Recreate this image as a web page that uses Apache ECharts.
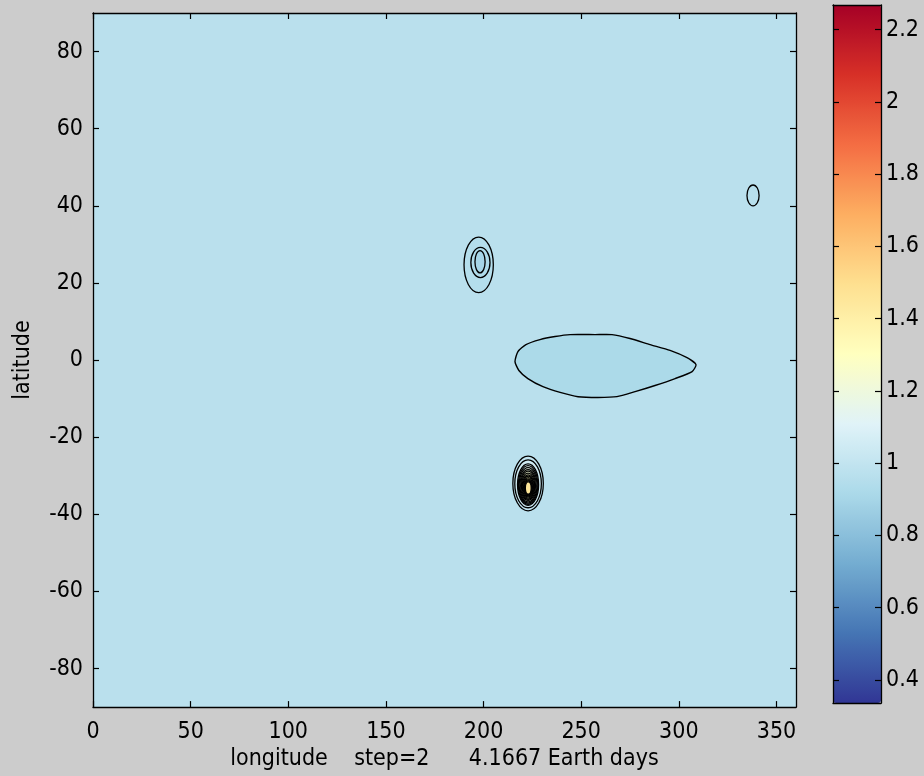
<!DOCTYPE html>
<html>
<head>
<meta charset="utf-8">
<title>latitude / longitude field</title>
<script src="https://cdn.jsdelivr.net/npm/echarts@6/dist/echarts.min.js"></script>
<style>
  html, body { margin: 0; padding: 0; background: #cccccc; }
  #chart { width: 924px; height: 776px; }
</style>
</head>
<body>
<div id="chart"></div>
<script>
// Axis ticks
const lonTicks = [0, 50, 100, 150, 200, 250, 300, 350];
const latTicks = [-80, -60, -40, -20, 0, 20, 40, 60, 80];
const levelTicks = [0.4, 0.6, 0.8, 1, 1.2, 1.4, 1.6, 1.8, 2, 2.2];

// Colour scale limits
const levelMin = 0.336;
const levelMax = 2.268;

// Level of the field outside every contour
const backgroundLevel = 0.97;

// Elongated low east of 215E: outline and level inside it
const lobeLon = [216.1, 217.6, 221.7, 228.9, 236.6, 244.3, 257.1, 265.8, 275.0, 285.3, 295.5, 304.2, 308.8,
                 306.8, 298.1, 287.8, 277.6, 268.3, 258.6, 248.4, 239.2, 230.4, 222.7, 218.1];
const lobeLat = [-0.4, 2.2, 4.0, 5.3, 6.1, 6.6, 6.6, 6.6, 5.6, 4.0, 2.5, 0.6, -1.2,
                 -3.0, -4.8, -6.6, -8.2, -9.5, -9.7, -9.5, -8.4, -6.9, -4.8, -2.7];
const lobeLevel = 0.92;

// Closed contours of the small features (outermost first within each feature):
// level inside the contour, centre lon/lat, half extent in lon/lat
const ringLevel   = [0.96,
                     0.95, 0.93, 0.90,
                     1.00, 1.05, 1.10, 1.13, 1.16, 1.19, 1.22, 1.25, 1.28, 1.31, 1.34, 1.37, 1.40, 1.43, 1.46];
const ringLon     = [338.0,
                     197.5, 198.4, 198.2,
                     222.8, 222.8, 222.8, 222.8, 222.8, 222.8, 222.8, 222.8, 222.8, 222.9, 222.9, 222.9, 222.9, 222.9, 222.9];
const ringLat     = [42.7,
                     24.7, 25.3, 25.5,
                     -32.0, -32.1, -32.3, -32.4, -32.5, -32.6, -32.6, -32.7, -32.8, -32.8, -32.9, -33.0, -33.0, -33.1, -33.2];
const ringHalfLon = [3.1,
                     7.5, 4.9, 2.6,
                     7.8, 6.8, 5.4, 5.0, 4.6, 4.2, 3.8, 3.4, 3.0, 2.7, 2.4, 2.1, 1.9, 1.7, 1.5];
const ringHalfLat = [2.7,
                     7.2, 3.9, 2.9,
                     7.1, 6.2, 5.4, 5.0, 4.6, 4.2, 3.8, 3.4, 3.0, 2.7, 2.4, 2.2, 2.0, 1.8, 1.6];

const FONT = "'DejaVu Sans Condensed', 'Liberation Sans', Arial, sans-serif";
const FS = 23;

const rdylbu = ['#313695', '#4575b4', '#74add1', '#abd9e9', '#e0f3f8', '#ffffbf',
                '#fee090', '#fdae61', '#f46d43', '#d73027', '#a50026'];

const ringData = ringLevel.map((v, i) => [v, ringLon[i], ringLat[i], ringHalfLon[i], ringHalfLat[i]]);

const chart = echarts.init(document.getElementById('chart'), null, { renderer: 'canvas' });

const tickStyle = { color: '#000', width: 1.2 };
const boxLine = { show: true, onZero: false, lineStyle: { color: '#000', width: 1.3 } };

chart.setOption({
  backgroundColor: '#cccccc',
  animation: false,
  grid: [
    { left: 93, top: 13, width: 703, height: 695, show: false, containLabel: false },
    { left: 833, top: 5, width: 48, height: 698, show: false, containLabel: false }
  ],
  xAxis: [
    {
      gridIndex: 0, type: 'value', min: 0, max: 360, position: 'bottom',
      name: 'longitude    step=2      4.1667 Earth days',
      nameLocation: 'middle', nameGap: 38,
      nameTextStyle: { color: '#000', fontFamily: FONT, fontSize: FS },
      axisLine: boxLine,
      axisTick: { show: true, inside: true, length: 6, customValues: lonTicks, lineStyle: tickStyle },
      axisLabel: { show: true, customValues: lonTicks, margin: 13, color: '#000', fontFamily: FONT, fontSize: FS },
      splitLine: { show: false }, z: 10
    },
    {
      gridIndex: 0, type: 'value', min: 0, max: 360, position: 'top',
      axisLine: boxLine,
      axisTick: { show: true, inside: true, length: 6, customValues: lonTicks, lineStyle: tickStyle },
      axisLabel: { show: false }, splitLine: { show: false }, z: 10
    },
    {
      gridIndex: 1, type: 'value', min: 0, max: 1, position: 'bottom',
      axisLine: boxLine,
      axisTick: { show: false }, axisLabel: { show: false }, splitLine: { show: false }, z: 10
    },
    {
      gridIndex: 1, type: 'value', min: 0, max: 1, position: 'top',
      axisLine: boxLine,
      axisTick: { show: false }, axisLabel: { show: false }, splitLine: { show: false }, z: 10
    }
  ],
  yAxis: [
    {
      gridIndex: 0, type: 'value', min: -90, max: 90, position: 'left',
      name: 'latitude', nameLocation: 'middle', nameGap: 58, nameRotate: 90,
      nameTextStyle: { color: '#000', fontFamily: FONT, fontSize: FS },
      axisLine: boxLine,
      axisTick: { show: true, inside: true, length: 6, customValues: latTicks, lineStyle: tickStyle },
      axisLabel: { show: true, customValues: latTicks, margin: 10, color: '#000', fontFamily: FONT, fontSize: FS },
      splitLine: { show: false }, z: 10
    },
    {
      gridIndex: 0, type: 'value', min: -90, max: 90, position: 'right',
      axisLine: boxLine,
      axisTick: { show: true, inside: true, length: 6, customValues: latTicks, lineStyle: tickStyle },
      axisLabel: { show: false }, splitLine: { show: false }, z: 10
    },
    {
      gridIndex: 1, type: 'value', min: levelMin, max: levelMax, position: 'right',
      axisLine: boxLine,
      axisTick: { show: true, inside: true, length: 6, customValues: levelTicks, lineStyle: tickStyle },
      axisLabel: { show: true, customValues: levelTicks, margin: 5, color: '#000', fontFamily: FONT, fontSize: FS },
      splitLine: { show: false }, z: 10
    },
    {
      gridIndex: 1, type: 'value', min: levelMin, max: levelMax, position: 'left',
      axisLine: boxLine,
      axisTick: { show: true, inside: true, length: 6, customValues: levelTicks, lineStyle: tickStyle },
      axisLabel: { show: false }, splitLine: { show: false }, z: 10
    }
  ],
  visualMap: {
    type: 'continuous',
    min: levelMin, max: levelMax,
    dimension: 0,
    seriesIndex: [0, 1, 2],
    inRange: { color: rdylbu },
    calculable: false,
    hoverLink: false,
    left: 833, top: 5,
    itemWidth: 48, itemHeight: 698,
    padding: 0,
    text: null,
    showLabel: false,
    z: 5
  },
  series: [
    {
      // whole-domain fill at the background level
      type: 'custom', xAxisIndex: 0, yAxisIndex: 0,
      data: [[backgroundLevel, 0, -90, 360, 90]],
      renderItem: function (params, api) {
        const p0 = api.coord([api.value(1), api.value(4)]);
        const p1 = api.coord([api.value(3), api.value(2)]);
        return {
          type: 'rect',
          shape: { x: p0[0], y: p0[1], width: p1[0] - p0[0], height: p1[1] - p0[1] },
          style: { fill: api.visual('color') }
        };
      },
      z: 1
    },
    {
      // elongated low
      type: 'custom', xAxisIndex: 0, yAxisIndex: 0,
      data: [[lobeLevel]],
      renderItem: function (params, api) {
        const pts = lobeLon.map((lon, i) => api.coord([lon, lobeLat[i]]));
        return {
          type: 'polygon',
          shape: { points: pts, smooth: 0.2 },
          style: { fill: api.visual('color'), stroke: '#000', lineWidth: 1.4 }
        };
      },
      z: 2
    },
    {
      // small closed contours
      type: 'custom', xAxisIndex: 0, yAxisIndex: 0,
      data: ringData,
      renderItem: function (params, api) {
        const c = api.coord([api.value(1), api.value(2)]);
        const s = api.size([api.value(3), api.value(4)]);
        return {
          type: 'ellipse',
          shape: { cx: c[0], cy: c[1], rx: s[0], ry: s[1] },
          style: { fill: api.visual('color'), stroke: '#000', lineWidth: 1.3 }
        };
      },
      z: 3
    }
  ]
});
</script>
</body>
</html>
